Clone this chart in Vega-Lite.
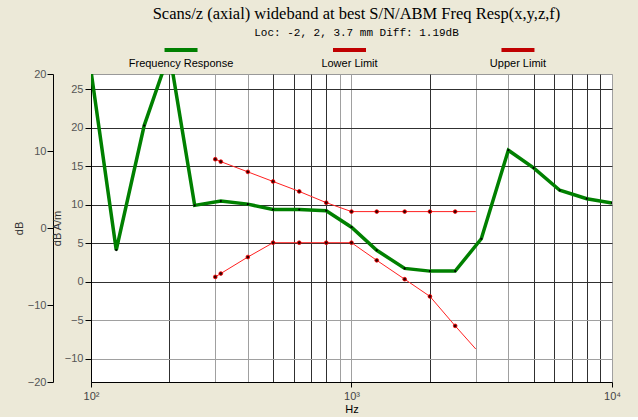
{
  "$schema": "https://vega.github.io/schema/vega-lite/v6.json",
  "background": "#ECE9D8",
  "padding": {"left": 13, "top": -5, "right": 0, "bottom": 2},
  "spacing": 4,
  "bounds": "flush",
  "datasets": {
    "fr": [
      {"f": 100, "v": 27.4}, {"f": 125, "v": 4.14}, {"f": 160, "v": 20.3}, {"f": 200, "v": 29.8},
      {"f": 250, "v": 9.94}, {"f": 315, "v": 10.5}, {"f": 400, "v": 10.1}, {"f": 500, "v": 9.4},
      {"f": 630, "v": 9.4}, {"f": 800, "v": 9.25}, {"f": 1000, "v": 7.1}, {"f": 1250, "v": 4.1},
      {"f": 1600, "v": 1.75}, {"f": 2000, "v": 1.4}, {"f": 2500, "v": 1.4}, {"f": 3150, "v": 5.6},
      {"f": 4000, "v": 17.1}, {"f": 5000, "v": 14.8}, {"f": 6300, "v": 11.9}, {"f": 8000, "v": 10.8},
      {"f": 10000, "v": 10.25}
    ],
    "lim": [
      {"series": "Lower Limit", "f": 300, "v": 0.65}, {"series": "Lower Limit", "f": 315, "v": 1.09},
      {"series": "Lower Limit", "f": 400, "v": 3.23}, {"series": "Lower Limit", "f": 500, "v": 5.09},
      {"series": "Lower Limit", "f": 630, "v": 5.09}, {"series": "Lower Limit", "f": 800, "v": 5.09},
      {"series": "Lower Limit", "f": 1000, "v": 5.09}, {"series": "Lower Limit", "f": 1250, "v": 2.8},
      {"series": "Lower Limit", "f": 1600, "v": 0.35}, {"series": "Lower Limit", "f": 2000, "v": -1.88},
      {"series": "Lower Limit", "f": 2500, "v": -5.71}, {"series": "Lower Limit", "f": 3000, "v": -8.72},
      {"series": "Upper Limit", "f": 300, "v": 15.93}, {"series": "Upper Limit", "f": 315, "v": 15.62},
      {"series": "Upper Limit", "f": 400, "v": 14.29}, {"series": "Upper Limit", "f": 500, "v": 13.04},
      {"series": "Upper Limit", "f": 630, "v": 11.75}, {"series": "Upper Limit", "f": 800, "v": 10.29},
      {"series": "Upper Limit", "f": 1000, "v": 9.13}, {"series": "Upper Limit", "f": 1250, "v": 9.13},
      {"series": "Upper Limit", "f": 1600, "v": 9.13}, {"series": "Upper Limit", "f": 2000, "v": 9.13},
      {"series": "Upper Limit", "f": 2500, "v": 9.13}, {"series": "Upper Limit", "f": 3000, "v": 9.13}
    ],
    "legend": [
      {"series": "Frequency Response"}, {"series": "Lower Limit"}, {"series": "Upper Limit"}
    ],
    "minorTicks": [
      {"v": -12}, {"v": -11}, {"v": -9}, {"v": -8}, {"v": -7}, {"v": -6}, {"v": -4}, {"v": -3}, {"v": -2}, {"v": -1},
      {"v": 1}, {"v": 2}, {"v": 3}, {"v": 4}, {"v": 6}, {"v": 7}, {"v": 8}, {"v": 9}, {"v": 11}, {"v": 12},
      {"v": 13}, {"v": 14}, {"v": 16}, {"v": 17}, {"v": 18}, {"v": 19}, {"v": 21}, {"v": 22}, {"v": 23}, {"v": 24}, {"v": 26}
    ],
    "outerTicks": [
      {"v": -15}, {"v": -10}, {"v": -5}, {"v": 0}, {"v": 5}, {"v": 10}, {"v": 15}
    ]
  },
  "vconcat": [
    {
      "width": 593,
      "height": 24,
      "title": {
        "text": "Scans/z (axial) wideband at best S/N/ABM Freq Resp(x,y,z,f)",
        "subtitle": "Loc: -2, 2, 3.7 mm Diff: 1.19dB",
        "font": "Liberation Serif", "fontSize": 16.5, "fontWeight": "normal", "color": "#000",
        "subtitleFont": "Liberation Mono", "subtitleFontSize": 11, "subtitleColor": "#000", "subtitlePadding": 5,
        "anchor": "middle", "frame": "group", "offset": 8, "dx": 7
      },
      "data": {"name": "legend"},
      "encoding": {
        "x": {"field": "series", "type": "nominal", "sort": null, "scale": {"type": "point", "padding": 0.76}, "axis": null}
      },
      "layer": [
        {
          "mark": {"type": "tick", "orient": "horizontal", "size": 33, "thickness": 4, "yOffset": -8, "opacity": 1},
          "encoding": {
            "color": {"field": "series", "type": "nominal",
              "scale": {"domain": ["Frequency Response", "Lower Limit", "Upper Limit"], "range": ["#008000", "#c00000", "#c00000"]},
              "legend": null}
          }
        },
        {
          "mark": {"type": "text", "font": "Liberation Sans", "fontSize": 11, "dy": 6, "color": "#000"},
          "encoding": {"text": {"field": "series"}}
        }
      ]
    },
    {
      "bounds": "flush",
      "spacing": 37,
      "hconcat": [
        {
          "width": 1,
          "height": 308,
          "encoding": {
            "x": {"field": "f", "type": "quantitative", "scale": {"type": "log", "domain": [100, 10000]}, "axis": null}
          },
          "layer": [
            {
              "data": {"name": "fr"},
              "mark": {"type": "point", "opacity": 0},
              "encoding": {
                "y": {"field": "v", "type": "quantitative",
                  "scale": {"domain": [-20, 20], "nice": false, "zero": false},
                  "axis": {
                    "values": [-20, -15, -10, -5, 0, 5, 10, 15, 20],
                    "labelOverlap": false,
                    "grid": false, "tickSize": 6, "tickColor": "#000", "domainColor": "#000",
                    "labelFont": "Liberation Sans", "labelFontSize": 11, "labelColor": "#555", "labelPadding": 1,
                    "title": "dB", "titleFont": "Liberation Sans", "titleFontSize": 11, "titleFontWeight": "normal", "titleColor": "#333", "titlePadding": 3
                  }
                }
              }
            },
            {
              "data": {"name": "outerTicks"},
              "mark": {"type": "tick", "orient": "horizontal", "size": 8, "thickness": 1, "color": "#000", "opacity": 1},
              "encoding": {
                "x": {"datum": 100},
                "y": {"field": "v", "type": "quantitative"}
              }
            }
          ]
        },
        {
          "width": 521,
          "height": 308,
          "view": {"fill": "white", "stroke": "#999"},
          "encoding": {
            "x": {
              "field": "f", "type": "quantitative",
              "scale": {"type": "log", "domain": [100, 10000], "nice": false},
              "axis": {
                "values": [100, 200, 300, 400, 500, 600, 700, 800, 900, 1000, 2000, 3000, 4000, 5000, 6000, 7000, 8000, 9000, 10000],
                "labelExpr": "datum.value == 100 ? '10²' : datum.value == 1000 ? '10³' : datum.value == 10000 ? '10⁴' : ''",
                "labelOverlap": false, "labelFlush": false,
                "grid": true,
                "gridColor": {"condition": {"test": "indexof([300,400,900,1000,3000,4000,10000], datum.value) >= 0", "value": "#a0a0a0"}, "value": "#303030"},
                "gridOpacity": 1, "gridWidth": 1,
                "tickOpacity": {"condition": {"test": "indexof([100,1000,10000], datum.value) >= 0", "value": 1}, "value": 0},
                "tickColor": "#000", "tickSize": 5,
                "domainColor": "#000",
                "labelFont": "Liberation Sans", "labelFontSize": 11, "labelColor": "#444", "labelPadding": 3,
                "title": "Hz", "titleFont": "Liberation Sans", "titleFontSize": 11, "titleFontWeight": "normal", "titleColor": "#000", "titlePadding": 2
              }
            },
            "y": {"field": "v", "type": "quantitative",
              "scale": {"domain": [-13, 27], "nice": false, "zero": false},
              "axis": {
                "values": [-10, -5, 0, 5, 10, 15, 20, 25],
                "labelOverlap": false,
                "grid": true,
                "gridColor": {"condition": {"test": "datum.value < 0", "value": "#a0a0a0"}, "value": "#303030"},
                "gridOpacity": 1,
                "tickSize": 6, "tickColor": "#000", "domainColor": "#000",
                "labelFont": "Liberation Sans", "labelFontSize": 11, "labelColor": "#555", "labelPadding": 2,
                "title": "dB A/m", "titleFont": "Liberation Sans", "titleFontSize": 11, "titleFontWeight": "normal", "titleColor": "#333", "titlePadding": 2
              }
            }
          },
          "layer": [
            {
              "data": {"name": "minorTicks"},
              "mark": {"type": "tick", "orient": "horizontal", "size": 8, "thickness": 1, "color": "#666", "opacity": 1, "clip": true},
              "encoding": {"x": {"datum": 100}}
            },
            {
              "data": {"name": "fr"},
              "mark": {"type": "line", "color": "#008000", "strokeWidth": 3.5, "clip": true}
            },
            {
              "data": {"name": "fr"},
              "mark": {"type": "point", "filled": true, "size": 5, "color": "#000", "opacity": 1, "clip": true}
            },
            {
              "data": {"name": "lim"},
              "mark": {"type": "line", "color": "#ff2020", "strokeWidth": 1, "clip": true},
              "encoding": {"detail": {"field": "series"}}
            },
            {
              "data": {"name": "lim"},
              "transform": [{"filter": "datum.f < 3000"}],
              "mark": {"type": "point", "filled": true, "size": 14, "fill": "#300", "stroke": "#ff0000", "strokeWidth": 0.8, "opacity": 1, "clip": true}
            }
          ]
        }
      ]
    }
  ],
  "config": {"view": {"stroke": null}}
}
